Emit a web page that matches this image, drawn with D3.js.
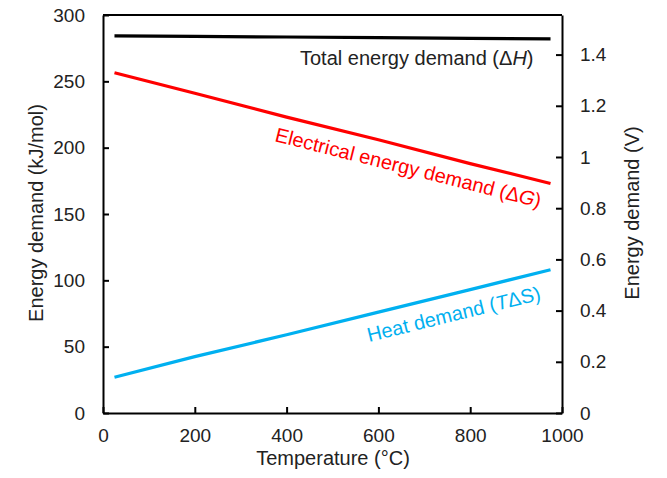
<!DOCTYPE html>
<html>
<head>
<meta charset="utf-8">
<script src="https://cdn.jsdelivr.net/npm/d3@7"></script>
<style>
  body { margin: 0; background: #fff; }
  svg { font-family: "Liberation Sans", Arial, sans-serif; }
  .axis path, .axis line { stroke: #000; stroke-width: 2; }
  .axis text { font-size: 19px; fill: #222; }
</style>
</head>
<body>
<svg id="chart" width="667" height="478"></svg>
<script>
// values
var temps = [25, 200, 400, 600, 800, 975];
var totalH = [284.3, 283.9, 283.4, 282.9, 282.4, 282.0];
var electricalG = [256.5, 241, 223, 206, 188, 173];
var heatTS = [27, 42.5, 59, 76, 93, 108];
var xTicks = [0, 200, 400, 600, 800, 1000];
var yTicks = [0, 50, 100, 150, 200, 250, 300];
var vTicks = [0, 0.2, 0.4, 0.6, 0.8, 1, 1.2, 1.4];

var F = 96.485; // kJ/mol per V per electron
var svg = d3.select('#chart');
var plotL = 103, plotR = 562, plotT = 15, plotB = 413;

var x = d3.scaleLinear().domain([0, 1000]).range([plotL, plotR]);
var y = d3.scaleLinear().domain([0, 300]).range([plotB, plotT]);
var yV = d3.scaleLinear().domain([0, 300 / (2 * F)]).range([plotB, plotT]);

//frame top
svg.append('line')
	.attr('x1', plotL).attr('x2', plotR).attr('y1', plotT).attr('y2', plotT)
	.attr('stroke', '#000').attr('stroke-width', 2);

//axes, ticks inward
svg.append('g').attr('class', 'axis')
	.attr('transform', 'translate(0,' + plotB + ')')
	.call(d3.axisBottom(x).tickValues(xTicks).tickFormat(d3.format('d'))
		.tickSizeInner(-6).tickSizeOuter(0).tickPadding(16));

svg.append('g').attr('class', 'axis')
	.attr('transform', 'translate(' + plotL + ',0)')
	.call(d3.axisLeft(y).tickValues(yTicks).tickSizeInner(-6).tickSizeOuter(0).tickPadding(18));

svg.append('g').attr('class', 'axis')
	.attr('transform', 'translate(' + plotR + ',0)')
	.call(d3.axisRight(yV).tickValues(vTicks).tickFormat(function(d) { return String(+d.toFixed(1)); })
		.tickSizeInner(-6).tickSizeOuter(0).tickPadding(18));

//lines
var line = d3.line()
	.x(function(d) { return x(d[0]); })
	.y(function(d) { return y(d[1]); });

[[totalH, '#000'], [electricalG, '#ff0000'], [heatTS, '#00b0f0']].forEach(function(s) {
	svg.append('path')
		.datum(d3.zip(temps, s[0]))
		.attr('d', line)
		.attr('fill', 'none')
		.attr('stroke', s[1])
		.attr('stroke-width', 3.2);
});

//axis titles
svg.append('text')
	.attr('transform', 'translate(43,213) rotate(-90)')
	.attr('text-anchor', 'middle')
	.attr('font-size', 20).attr('fill', '#222')
	.text('Energy demand (kJ/mol)');

svg.append('text')
	.attr('transform', 'translate(639,213) rotate(-90)')
	.attr('text-anchor', 'middle')
	.attr('font-size', 20).attr('fill', '#222')
	.text('Energy demand (V)');

svg.append('text')
	.attr('x', 333).attr('y', 465)
	.attr('text-anchor', 'middle')
	.attr('font-size', 20).attr('fill', '#222')
	.text('Temperature (°C)');

//line labels
function label(parts, tx, ty, angle, color) {
	var t = svg.append('text')
		.attr('transform', 'translate(' + tx + ',' + ty + ') rotate(' + angle + ')')
		.attr('font-size', 20).attr('fill', color);
	parts.forEach(function(p) {
		t.append('tspan').attr('font-style', p[1] ? 'italic' : 'normal').text(p[0]);
	});
}

label([['Total energy demand (Δ', 0], ['H', 1], [')', 0]], 300, 65, 0, '#222');
label([['Electrical energy demand (Δ', 0], ['G', 1], [')', 0]], 274, 141, 14.1, '#ff0000');
label([['Heat demand (', 0], ['T', 1], ['ΔS)', 0]], 369, 342, -13.8, '#00b0f0');
</script>
</body>
</html>
